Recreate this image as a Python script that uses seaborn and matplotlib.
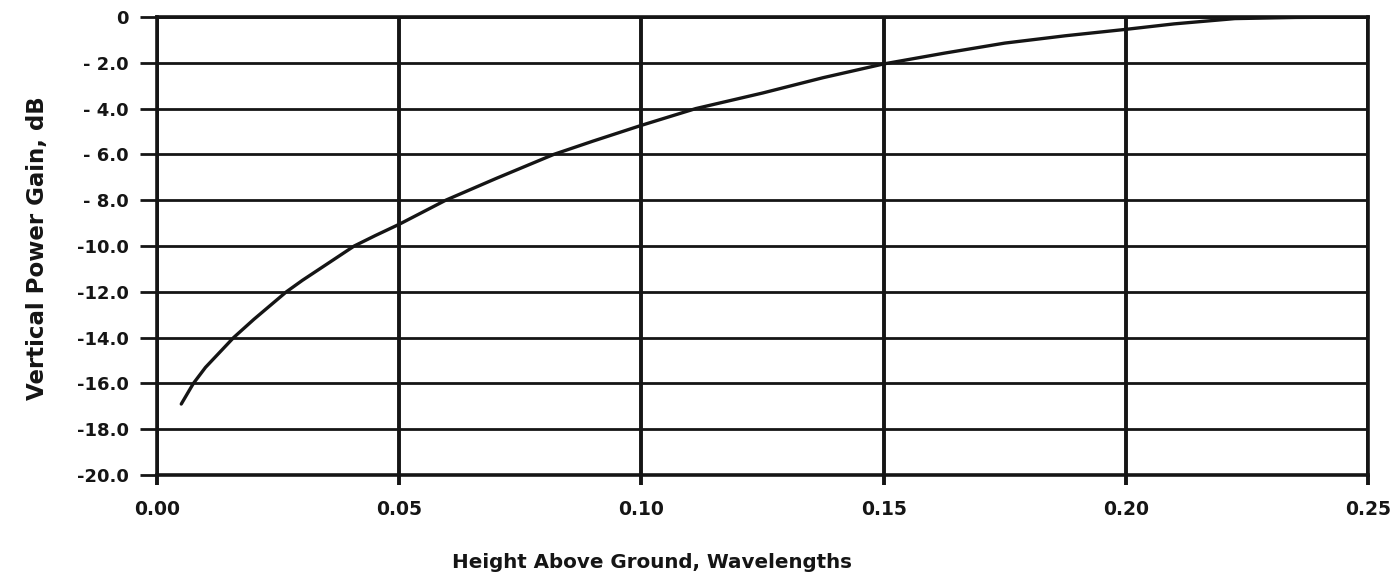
import matplotlib
matplotlib.use("Agg")
import matplotlib.pyplot as plt
import seaborn as sns
import pandas as pd

# Data
height_wl = [0.005, 0.0075, 0.010, 0.0158, 0.020, 0.0267, 0.030, 0.035, 0.0407,
             0.045, 0.050, 0.0596, 0.070, 0.0819, 0.090, 0.100, 0.1112, 0.125,
             0.1375, 0.150, 0.1625, 0.175, 0.1875, 0.200, 0.210, 0.2225, 0.235, 0.250]
gain_db = [-16.9, -16.0, -15.3, -14.0, -13.2, -12.0, -11.5, -10.8, -10.0,
           -9.55, -9.05, -8.0, -7.05, -6.0, -5.42, -4.73, -4.0, -3.32,
           -2.65, -2.05, -1.58, -1.14, -0.82, -0.54, -0.30, -0.07, -0.02, 0.0]

x_ticks = [0.00, 0.05, 0.10, 0.15, 0.20, 0.25]
x_tick_labels = ["0.00", "0.05", "0.10", "0.15", "0.20", "0.25"]
y_ticks = [0, -2, -4, -6, -8, -10, -12, -14, -16, -18, -20]
y_tick_labels = ["0", "- 2.0", "- 4.0", "- 6.0", "- 8.0", "-10.0", "-12.0",
                 "-14.0", "-16.0", "-18.0", "-20.0"]

x_label = "Height Above Ground, Wavelengths"
y_label = "Vertical Power Gain, dB"

sns.set_style("white")
plt.rcParams["font.family"] = ["DejaVu Sans"]
plt.rcParams["font.weight"] = "bold"

df = pd.DataFrame({"h": height_wl, "g": gain_db})

fig = plt.figure(figsize=(13.91, 5.80), dpi=100)
ax = fig.add_axes([0.1129, 0.181, 0.8706, 0.7897])

ink = "#151515"

# grid lines
for yv in y_ticks:
    ax.axhline(yv, color=ink, lw=2.0, zorder=1)
for xv in x_ticks:
    ax.axvline(xv, color=ink, lw=2.8, zorder=1)

sns.lineplot(data=df, x="h", y="g", ax=ax, color=ink, lw=2.4, zorder=3)

ax.set_xlim(0, 0.25)
ax.set_ylim(-20, 0)
ax.set_xticks(x_ticks)
ax.set_xticklabels(x_tick_labels, fontsize=13.5, fontweight="bold")
ax.set_yticks(y_ticks)
ax.set_yticklabels(y_tick_labels, fontsize=13, fontweight="bold")
ax.tick_params(axis="y", left=True, direction="out", length=12, width=2.0,
               pad=8.5, color=ink, labelcolor=ink)
ax.tick_params(axis="x", bottom=True, direction="out", length=7, width=2.8,
               pad=11, color=ink, labelcolor=ink)

for s in ax.spines.values():
    s.set_color(ink)
    s.set_linewidth(2.6)

ax.set_xlabel(x_label, fontsize=14.3, fontweight="bold", color=ink)
ax.xaxis.set_label_coords(0.4088, -0.192)
ax.xaxis.label.set_va("center")
ax.set_ylabel(y_label, fontsize=16.5, fontweight="bold", color=ink)
ax.yaxis.set_label_coords(-0.0991, 0.4956)
ax.yaxis.label.set_va("center")

fig.savefig("out.png", dpi=100, facecolor="white")
